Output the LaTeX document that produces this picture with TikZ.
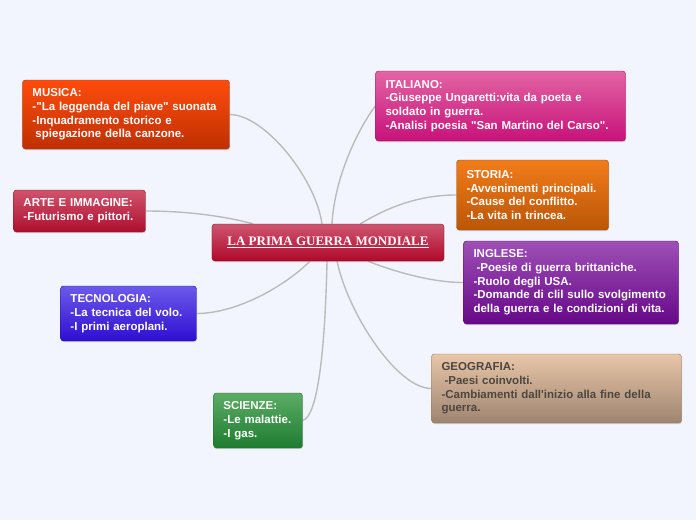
\documentclass[tikz,border=0pt]{standalone}
\usepackage{fontspec}
\setmainfont{Liberation Sans}[Ligatures=TeXOff]
\newfontfamily\titlefont{Liberation Serif}
\usepackage{tikz}
\usetikzlibrary{shadows, backgrounds}

\definecolor{pagebg}{HTML}{F2F5FD}
\definecolor{linkgray}{HTML}{BBBBBB}
\definecolor{hubtop}{HTML}{CD5670}
\definecolor{hubbot}{HTML}{B0082A}
\definecolor{hubline}{HTML}{7E0E1E}
\definecolor{musicatop}{HTML}{FF4C0C}
\definecolor{musicabot}{HTML}{BE3000}
\definecolor{musicaline}{HTML}{A82A00}
\definecolor{artetop}{HTML}{D0546C}
\definecolor{artebot}{HTML}{AE0E2E}
\definecolor{arteline}{HTML}{8E1024}
\definecolor{tecnotop}{HTML}{6C5AEA}
\definecolor{tecnobot}{HTML}{2E0ED2}
\definecolor{tecnoline}{HTML}{2410A0}
\definecolor{scienzetop}{HTML}{5CAC66}
\definecolor{scienzebot}{HTML}{1E7C30}
\definecolor{scienzeline}{HTML}{1A6A28}
\definecolor{italianotop}{HTML}{E264A4}
\definecolor{italianobot}{HTML}{C8127A}
\definecolor{italianoline}{HTML}{A01262}
\definecolor{storiatop}{HTML}{F27C1A}
\definecolor{storiabot}{HTML}{BA5606}
\definecolor{storialine}{HTML}{A04A08}
\definecolor{inglesetop}{HTML}{9E50B6}
\definecolor{inglesebot}{HTML}{660888}
\definecolor{ingleseline}{HTML}{560A70}
\definecolor{geotop}{HTML}{E8C6A8}
\definecolor{geobot}{HTML}{9E8470}
\definecolor{geoline}{HTML}{8C7868}
\definecolor{geotext}{HTML}{4E4640}

\begin{document}
\begin{tikzpicture}[
    x=1pt, y=1pt,
    hub/.style={rectangle, draw=hubline, top color=hubtop, bottom color=hubbot, rounded corners=3pt, minimum width=232pt, minimum height=37pt, inner sep=0pt, text=white, font=\titlefont\fontsize{13}{15}\selectfont\bfseries, drop shadow={shadow xshift=0.6pt, shadow yshift=-1.2pt, opacity=0.3}},
    topic/.style={rectangle, draw=#1line, top color=#1top, bottom color=#1bot, rounded corners=3pt, inner xsep=10pt, inner ysep=0pt, align=left, text=white, font=\fontsize{11.5}{13.7}\selectfont\bfseries, drop shadow={shadow xshift=0.6pt, shadow yshift=-1.2pt, opacity=0.3}},
    link/.style={draw=linkgray, line width=1.4pt}
]
    \useasboundingbox (-328,242.5) rectangle (368,-277.5);

    \node (main) [hub] at (0,0) {\underline{LA PRIMA GUERRA MONDIALE}};

    % left side
    \node (musica) [topic=musica, text width=187pt, minimum height=69pt] at (-202,128) {MUSICA:\\-"La leggenda del piave" suonata\\-Inquadramento storico e\\\hspace*{3pt}spiegazione della canzone.};
    \node (arte) [topic=arte, text width=112pt, minimum height=42pt] at (-248.5,31.5) {ARTE E IMMAGINE:\\-Futurismo e pittori.};
    \node (tecno) [topic=tecno, text width=116pt, minimum height=55pt] at (-199.5,-71) {TECNOLOGIA:\\-La tecnica del volo.\\-I primi aeroplani.};
    \node (scienze) [topic=scienze, text width=69pt, minimum height=55pt] at (-70,-178) {SCIENZE:\\-Le malattie.\\-I gas.};

    % right side
    \node (italiano) [topic=italiano, text width=230pt, minimum height=70pt] at (172.5,136.5) {ITALIANO:\\-Giuseppe Ungaretti:vita da poeta e\\soldato in guerra.\\-Analisi poesia "San Martino del Carso".};
    \node (storia) [topic=storia, text width=132pt, minimum height=70pt] at (204.5,47.5) {STORIA:\\-Avvenimenti principali.\\-Cause del conflitto.\\-La vita in trincea.};
    \node (inglese) [topic=inglese, text width=195pt, minimum height=83pt] at (243,-40) {INGLESE:\\\hspace*{3pt}-Poesie di guerra brittaniche.\\-Ruolo degli USA.\\-Domande di clil sullo svolgimento\\della guerra e le condizioni di vita.};
    \node (geo) [topic=geo, text=geotext, text width=230pt, minimum height=69pt] at (228.5,-146) {GEOGRAFIA:\\\hspace*{3pt}-Paesi coinvolti.\\-Cambiamenti dall'inizio alla fine della\\guerra.};

    \begin{scope}[on background layer]
        \fill [pagebg] (-328,242.5) rectangle (368,-277.5);
        \draw [link] (main.108) .. controls +(-6,45) and +(35,0) .. (musica.east);
        \draw [link] (main.166) .. controls +(-30,8) and +(40,0) .. (arte.east);
        \draw [link] (main.226) .. controls +(-25,-25) and +(40,0) .. (tecno.east);
        \draw [link] (main.267) .. controls +(-2,-90) and +(15,4) .. (scienze.east);
        \draw [link] (main.78) .. controls +(3,50) and +(-15,-20) .. (italiano.west);
        \draw [link] (main.30) .. controls +(25,15) and +(-40,0) .. (storia.west);
        \draw [link] (main.335) .. controls +(20,-8) and +(-35,0) .. (inglese.west);
        \draw [link] (main.296) .. controls +(10,-50) and +(-35,0) .. (geo.west);
    \end{scope}
\end{tikzpicture}
\end{document}
